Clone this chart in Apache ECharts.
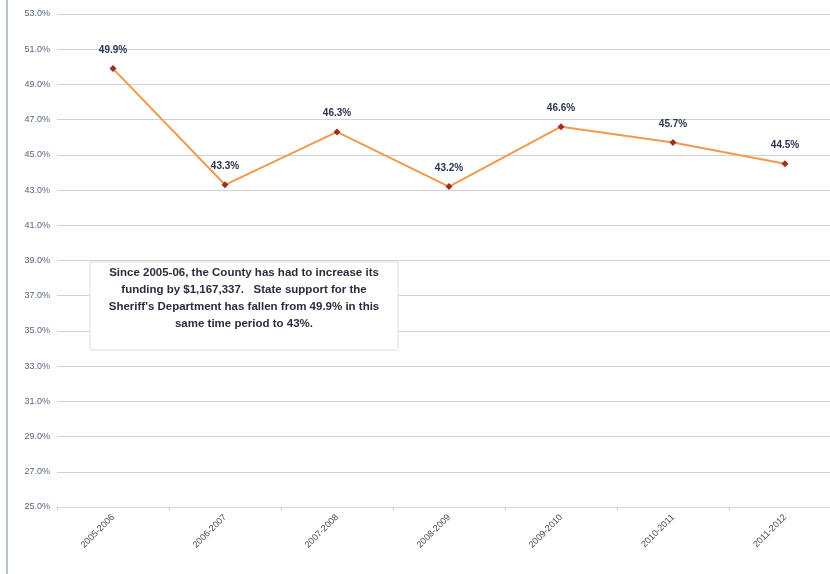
<!DOCTYPE html>
<html>
<head>
<meta charset="utf-8">
<script src="https://cdn.jsdelivr.net/npm/echarts@6/dist/echarts.min.js"></script>
<style>
  html, body { margin: 0; padding: 0; background: #fff; overflow: hidden; }
  #chart { width: 841px; height: 574px; }
</style>
</head>
<body>
<div id="chart"></div>
<script>
const years = ['2005-2006', '2006-2007', '2007-2008', '2008-2009', '2009-2010', '2010-2011', '2011-2012']
const stateShare = [49.9, 43.3, 46.3, 43.2, 46.6, 45.7, 44.5]
const yMin = 25
const yMax = 53
const yStep = 2

const noteLines = [
  'Since 2005-06, the County has had to increase its',
  'funding by $1,167,337.   State support for the',
  "Sheriff's Department has fallen from 49.9% in this",
  'same time period to 43%.'
]

// the plot runs a little past the right edge of the visible picture
const chart = echarts.init(document.getElementById('chart'))

chart.setOption({
  backgroundColor: '#fff',
  animation: false,
  grid: { left: 57, top: 14, right: 0, bottom: 67 },
  xAxis: {
    type: 'category',
    data: years,
    boundaryGap: true,
    axisLine: { lineStyle: { color: '#d4d8dc' } },
    axisTick: { show: true, length: 3, lineStyle: { color: '#c0c4c8' } },
    axisLabel: {
      rotate: 45,
      fontSize: 9,
      color: '#4a4a55',
      fontFamily: 'Liberation Sans',
      margin: 9
    }
  },
  yAxis: {
    type: 'value',
    min: yMin,
    max: yMax,
    interval: yStep,
    axisLine: { show: false },
    axisTick: { show: false },
    axisLabel: {
      formatter: (v) => v.toFixed(1) + '%',
      fontSize: 9,
      color: '#56667e',
      fontFamily: 'Liberation Sans',
      margin: 7
    },
    splitLine: { lineStyle: { color: '#cfd3d8', width: 1 } }
  },
  series: [
    {
      type: 'line',
      data: stateShare,
      symbol: 'diamond',
      symbolSize: 7,
      itemStyle: { color: '#9c2f2a' },
      lineStyle: { color: '#f2994e', width: 2 },
      label: {
        show: true,
        position: 'top',
        distance: 10,
        formatter: (p) => p.value.toFixed(1) + '%',
        fontSize: 10,
        fontWeight: 'bold',
        color: '#2b3552',
        fontFamily: 'Liberation Sans'
      }
    }
  ],
  graphic: [
    {
      type: 'line',
      shape: { x1: 7, y1: 0, x2: 7, y2: 574 },
      style: { stroke: '#b9c6d2', lineWidth: 2 }
    },
    {
      type: 'rect',
      shape: { x: 90, y: 262, width: 308, height: 88 },
      style: { fill: '#fff', stroke: '#dcdcdc', lineWidth: 1 },
      z: 10
    },
    {
      type: 'text',
      x: 244,
      y: 264,
      z: 11,
      style: {
        text: noteLines.join('\n'),
        align: 'center',
        verticalAlign: 'top',
        font: 'bold 11.5px "Liberation Sans"',
        lineHeight: 17,
        fill: '#2a2d3e'
      }
    }
  ]
})
</script>
</body>
</html>
